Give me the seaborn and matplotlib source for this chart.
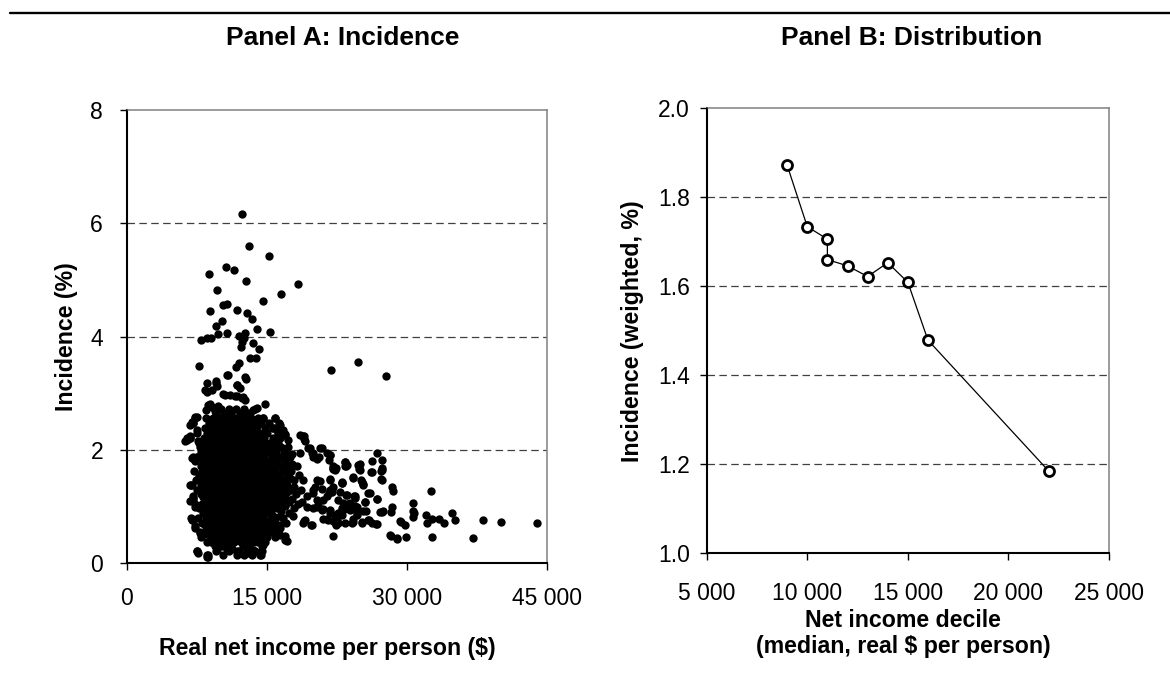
import matplotlib
matplotlib.use("Agg")
import matplotlib.pyplot as plt
from matplotlib.ticker import FuncFormatter, FixedLocator
from matplotlib.lines import Line2D
import seaborn as sns
import pandas as pd

# ---------------- Panel A data (income in $ thousands, incidence %) ----------------
# dense core, read row by row (incidence level, incomes)
core_rows = [
    (0.15, [8.7, 10.3, 11.8, 12.6, 13.4, 14.4]),
    (0.22, [7.5, 9.6, 10.9, 12.0, 12.9, 13.7]),
    (0.30, [9.4, 10.2, 11.2, 12.4, 13.1, 14.5]),
    (0.38, [8.6, 9.0, 9.9, 10.7, 11.5, 12.2, 12.9, 13.6, 14.0, 14.8]),
    (0.46, [8.0, 8.9, 9.5, 10.3, 11.0, 11.8, 12.5, 13.3, 14.1, 15.0, 15.9]),
    (0.55, [7.8, 8.4, 9.2, 9.9, 10.6, 11.4, 12.1, 12.8, 13.5, 14.3, 15.5, 16.0]),
    (0.63, [7.3, 8.7, 9.5, 10.2, 10.9, 11.7, 12.4, 13.1, 13.9, 14.7, 16.4]),
    (0.72, [8.1, 8.9, 9.7, 10.5, 11.2, 12.0, 12.7, 13.4, 14.2, 15.1, 15.7, 17.0]),
    (0.80, [6.9, 7.6, 8.5, 9.3, 10.0, 10.8, 11.5, 12.3, 13.0, 13.8, 14.6, 15.9, 16.7]),
    (0.88, [8.2, 9.0, 9.7, 10.4, 11.1, 11.9, 12.6, 13.3, 14.1, 14.9, 15.4, 17.4]),
    (0.97, [7.7, 8.6, 9.4, 10.1, 10.8, 11.6, 12.3, 13.0, 13.8, 14.5, 15.2, 16.1, 17.9]),
    (1.05, [7.3, 8.1, 8.9, 9.7, 10.5, 11.2, 12.0, 12.7, 13.4, 14.2, 15.0, 15.8, 16.6, 18.3]),
    (1.13, [7.1, 8.5, 9.3, 10.0, 10.8, 11.5, 12.3, 13.1, 13.8, 14.6, 15.4, 16.2, 17.0, 17.7]),
    (1.22, [7.9, 8.8, 9.6, 10.4, 11.1, 11.9, 12.6, 13.4, 14.1, 14.9, 15.7, 16.5, 18.1]),
    (1.30, [7.5, 8.3, 9.1, 9.9, 10.7, 11.4, 12.2, 13.0, 13.7, 14.5, 15.3, 16.0, 16.9, 17.6, 18.6]),
    (1.38, [6.9, 7.9, 8.7, 9.5, 10.3, 11.0, 11.8, 12.5, 13.3, 14.0, 14.8, 15.6, 16.4, 17.2]),
    (1.47, [7.4, 8.2, 9.0, 9.8, 10.6, 11.3, 12.1, 12.9, 13.6, 14.4, 15.2, 16.0, 16.8, 17.9, 18.9]),
    (1.55, [7.7, 8.5, 9.3, 10.1, 10.9, 11.7, 12.4, 13.2, 13.9, 14.7, 15.5, 16.3, 17.1, 18.4]),
    (1.63, [7.2, 8.1, 8.9, 9.7, 10.4, 11.2, 12.0, 12.8, 13.5, 14.3, 15.1, 15.9, 16.7, 17.6]),
    (1.72, [7.9, 8.6, 9.4, 10.2, 11.0, 11.8, 12.5, 13.3, 14.0, 14.8, 15.6, 16.4, 17.3, 18.2]),
    (1.80, [7.3, 8.2, 9.0, 9.8, 10.6, 11.4, 12.1, 12.9, 13.7, 14.5, 15.3, 16.1, 16.9]),
    (1.88, [7.5, 8.5, 9.3, 10.1, 10.9, 11.6, 12.4, 13.2, 13.9, 14.7, 15.5, 16.5, 17.5]),
    (1.97, [8.0, 8.8, 9.6, 10.4, 11.2, 12.0, 12.8, 13.5, 14.3, 15.1, 16.0, 16.8]),
    (2.05, [7.8, 8.6, 9.4, 10.2, 11.0, 11.7, 12.5, 13.3, 14.1, 14.9, 15.7, 16.5, 17.3]),
    (2.13, [7.7, 8.9, 9.7, 10.5, 11.3, 12.1, 12.9, 13.7, 14.5, 15.3, 16.2]),
    (2.22, [6.4, 6.8, 8.3, 9.1, 9.9, 10.7, 11.5, 12.3, 13.1, 13.9, 14.7, 15.6, 16.4]),
    (2.30, [7.5, 8.6, 9.4, 10.2, 11.0, 11.8, 12.6, 13.4, 14.2, 15.0, 16.2]),
    (2.38, [8.4, 9.0, 9.8, 10.6, 11.4, 12.2, 13.0, 13.8, 14.8, 15.7]),
    (2.47, [7.1, 8.8, 9.5, 10.3, 11.1, 11.9, 12.7, 13.5, 14.4, 15.2, 16.3]),
    (2.56, [7.3, 8.5, 9.2, 10.0, 10.8, 11.6, 12.4, 13.3, 14.1, 14.6, 15.9]),
    (2.65, [9.6, 10.4, 11.2, 12.1, 12.9]),
    (2.73, [10.1, 10.9, 11.7, 12.6]),
]

# in-between rows of the solid core (offset positions)
core_rows_mid = [
    (0.42, [8.9, 9.6, 10.4, 11.2, 11.9, 12.7, 13.5, 14.3]),
    (0.51, [8.3, 9.0, 9.8, 10.6, 11.4, 12.2, 13.0, 13.8, 14.6]),
    (0.59, [8.5, 9.3, 10.1, 10.9, 11.7, 12.5, 13.3, 14.1, 15.0]),
    (0.68, [8.4, 9.2, 10.0, 10.8, 11.6, 12.4, 13.2, 14.0, 14.8, 16.0]),
    (0.76, [8.6, 9.4, 10.2, 11.0, 11.8, 12.6, 13.4, 14.2, 15.3]),
    (0.84, [8.8, 9.6, 10.4, 11.2, 12.0, 12.8, 13.6, 14.4, 15.6, 16.4]),
    (0.93, [8.3, 9.1, 9.9, 10.7, 11.5, 12.3, 13.1, 13.9, 14.8, 16.5]),
    (1.01, [8.5, 9.3, 10.1, 10.9, 11.7, 12.5, 13.3, 14.1, 15.4, 16.9]),
    (1.09, [8.7, 9.5, 10.3, 11.1, 11.9, 12.7, 13.5, 14.3, 15.2, 16.0, 17.4]),
    (1.17, [8.2, 9.0, 9.8, 10.6, 11.4, 12.2, 13.0, 13.8, 14.6, 15.6, 16.6]),
    (1.26, [8.4, 9.2, 10.0, 10.8, 11.6, 12.4, 13.2, 14.0, 14.8, 15.9, 17.2]),
    (1.34, [8.6, 9.4, 10.2, 11.0, 11.8, 12.6, 13.4, 14.2, 15.0, 16.4, 17.9]),
    (1.43, [8.3, 9.1, 9.9, 10.7, 11.5, 12.3, 13.1, 13.9, 14.7, 15.6, 16.5]),
    (1.51, [8.0, 8.8, 9.6, 10.4, 11.2, 12.0, 12.8, 13.6, 14.4, 15.3, 17.5]),
    (1.59, [8.4, 9.2, 10.0, 10.8, 11.6, 12.4, 13.2, 14.0, 14.9, 16.0, 17.0]),
    (1.68, [8.2, 9.0, 9.8, 10.6, 11.4, 12.2, 13.0, 13.8, 14.6, 15.5, 16.9]),
    (1.76, [8.5, 9.3, 10.1, 10.9, 11.7, 12.5, 13.3, 14.1, 15.0, 16.0, 17.7]),
    (1.84, [8.1, 8.9, 9.7, 10.5, 11.3, 12.1, 12.9, 13.7, 14.5, 15.9]),
    (1.93, [8.3, 9.1, 9.9, 10.7, 11.5, 12.3, 13.1, 13.9, 14.7, 15.6, 17.1]),
    (2.01, [8.5, 9.3, 10.1, 10.9, 11.7, 12.5, 13.3, 14.1, 15.3]),
    (2.09, [8.2, 9.0, 9.8, 10.6, 11.4, 12.2, 13.0, 13.8, 14.6, 16.0]),
    (2.18, [8.5, 9.3, 10.1, 10.9, 11.7, 12.5, 13.3, 14.1]),
    (2.26, [8.8, 9.6, 10.4, 11.2, 12.0, 12.8, 13.6, 14.4]),
    (2.34, [8.9, 9.7, 10.5, 11.3, 12.1, 12.9, 13.7]),
    (2.43, [9.1, 9.9, 10.7, 11.5, 12.3, 13.1, 13.9]),
    (2.51, [9.6, 10.4, 11.2, 12.0, 12.8]),
]

# extra points read inside the dense core (irregular fill)
fill_points = [
    (9.0, 1.01), (10.1, 1.09), (11.4, 0.93), (12.8, 1.17), (13.9, 0.84), (9.7, 1.42),
    (10.9, 1.51), (12.2, 1.34), (13.5, 1.58), (14.6, 1.26), (8.8, 1.84), (10.3, 1.92),
    (11.5, 1.76), (12.9, 2.01), (14.2, 1.68), (9.3, 2.27), (10.8, 2.34), (12.1, 2.18),
    (13.6, 2.42), (8.6, 0.59), (10.4, 0.67), (11.6, 0.50), (12.9, 0.76), (14.0, 0.42),
    (9.9, 0.34), (11.3, 0.26), (12.6, 0.42), (15.5, 1.09), (16.2, 1.84), (15.9, 1.43),
    (16.8, 1.17), (17.4, 1.51), (15.1, 2.09), (17.7, 1.93), (8.2, 1.26), (8.0, 2.01),
]

# edge / sparse points around the core
edge_points = [
    (7.13, 1.88), (7.31, 1.82), (6.95, 1.38), (7.13, 1.18), (7.31, 1.00), (6.95, 0.76),
    (7.31, 0.65), (7.85, 0.53), (7.49, 0.21), (8.74, 0.12), (6.78, 1.38), (7.13, 1.15),
    (6.95, 0.79), (6.95, 1.85), (7.67, 0.19), (8.56, 0.15), (6.80, 1.10), (6.24, 2.16),
    (6.78, 2.24), (7.06, 0.76), (8.56, 0.12), (14.26, 0.15),
    (9.63, 0.24), (10.70, 0.26), (11.77, 0.21), (12.84, 0.18), (13.55, 0.24), (14.44, 0.21),
    (14.62, 0.32), (16.05, 0.53), (16.94, 0.41), (15.51, 0.59), (16.41, 0.68), (15.87, 0.79),
    (14.80, 0.47),
    (10.34, 2.98), (11.05, 2.97), (11.77, 2.95), (12.48, 2.94), (10.52, 2.97), (11.59, 2.95),
    (12.30, 2.91), (12.66, 2.88), (8.38, 3.05), (9.16, 3.05), (8.56, 3.03), (8.92, 2.82),
    (9.09, 2.76), (8.49, 2.71), (8.74, 2.79), (9.81, 2.78), (9.45, 2.68), (14.80, 2.82),
    (13.55, 2.71), (13.91, 2.74), (13.73, 2.72), (13.20, 2.66), (14.62, 2.56), (13.91, 2.50),
    (15.87, 2.56), (16.33, 2.44), (16.76, 2.35), (18.90, 2.24), (19.08, 2.15), (7.49, 2.59),
    (7.13, 2.47), (6.42, 2.18), (6.78, 2.21), (7.49, 2.35), (15.69, 2.38), (16.23, 2.32),
    (16.94, 2.26), (17.30, 2.18), (16.94, 2.28), (16.40, 2.44), (7.31, 2.59), (6.95, 2.50),
    (6.78, 2.44), (7.67, 2.15), (7.49, 1.88),
]

# upper outliers
upper_points = [
    (12.37, 6.16), (13.12, 5.60), (15.22, 5.43), (8.84, 5.10), (10.62, 5.23), (11.51, 5.17),
    (12.80, 4.98), (9.66, 4.82), (18.33, 4.93), (16.47, 4.76), (14.62, 4.63), (8.95, 4.45),
    (10.34, 4.55), (10.77, 4.58), (11.80, 4.47), (12.84, 4.41), (13.44, 4.32), (10.16, 4.27),
    (9.52, 4.18), (13.97, 4.13), (9.77, 4.05), (10.73, 4.06), (15.33, 4.08), (12.01, 4.02),
    (12.66, 4.07), (12.52, 3.98), (7.95, 3.94), (8.62, 3.98), (8.99, 3.98), (12.30, 3.91),
    (13.55, 3.88), (14.19, 3.79), (12.23, 3.81), (13.19, 3.62), (13.80, 3.62), (7.77, 3.49),
    (11.66, 3.47), (11.98, 3.53), (21.86, 3.42), (24.71, 3.55), (27.77, 3.31),
    (10.70, 3.32), (10.88, 3.32), (12.66, 3.29), (12.77, 3.25), (11.77, 3.15), (8.56, 3.19),
    (9.56, 3.21), (9.63, 3.13), (12.13, 3.09), (9.52, 3.19), (11.77, 3.15),
]

# right-hand tail
tail_points = [
    (26.75, 1.95), (32.52, 1.28), (30.60, 1.07), (30.60, 0.93), (30.70, 0.88), (30.60, 0.82),
    (32.02, 0.86), (32.10, 0.71), (32.63, 0.79), (33.41, 0.78), (33.95, 0.72), (34.77, 0.88),
    (35.16, 0.76), (38.12, 0.76), (40.08, 0.73), (43.86, 0.72), (37.02, 0.44), (32.66, 0.46),
    (29.85, 0.46), (28.95, 0.43), (28.31, 0.48), (29.31, 0.73), (29.74, 0.67), (28.35, 1.00),
    (28.25, 0.91), (28.38, 1.35), (28.52, 1.28), (27.24, 1.63), (27.24, 1.48), (27.13, 0.90),
    (27.42, 0.93), (26.67, 0.69), (26.75, 1.14), (26.17, 1.61), (25.85, 1.24), (25.89, 0.76),
    (25.50, 1.08), (25.61, 0.93), (25.17, 0.73), (24.82, 1.72), (24.88, 1.66), (24.25, 1.52),
    (25.03, 1.47), (25.25, 1.40), (24.32, 1.18), (24.46, 1.02), (24.61, 0.88), (24.17, 0.73),
    (23.36, 1.79), (23.46, 1.72), (23.00, 1.42), (23.46, 1.21), (23.18, 1.06), (23.54, 0.99),
    (23.18, 0.94), (23.00, 0.86), (22.10, 0.48), (22.36, 0.68), (22.53, 0.76), (21.76, 1.92),
    (21.69, 1.82), (22.11, 1.68), (22.40, 1.68), (21.76, 1.47), (21.93, 1.32), (21.69, 1.24),
    (19.43, 2.03), (19.79, 1.95), (19.97, 1.88), (20.32, 1.84), (20.86, 2.03), (21.39, 1.94),
    (21.75, 1.91), (23.35, 1.79), (23.53, 1.74), (22.28, 1.68), (22.10, 1.66), (22.99, 1.44),
    (21.75, 1.49), (22.10, 1.34), (21.93, 1.26), (21.39, 1.18), (20.68, 1.46), (20.14, 1.34),
    (19.97, 1.24), (20.97, 1.12), (20.32, 1.00), (21.03, 0.96), (24.78, 1.74), (24.96, 1.65),
    (25.14, 1.44), (26.21, 1.62), (27.28, 1.65), (27.28, 1.47), (26.03, 1.24), (26.74, 1.14),
    (25.49, 1.09), (24.42, 1.18), (24.60, 1.00), (23.53, 1.05), (22.64, 1.12), (22.99, 0.97),
    (22.64, 0.88), (22.28, 0.85), (21.75, 0.94), (21.39, 0.79), (22.10, 0.75), (21.03, 0.78),
    (22.64, 0.71), (24.60, 0.85), (23.89, 0.94), (25.32, 0.93), (24.07, 0.72), (25.14, 0.72),
    (25.85, 0.76), (26.74, 0.69), (27.28, 0.91), (26.21, 0.72), (19.07, 0.76), (19.79, 0.68),
    (18.90, 0.71), (17.83, 0.84), (16.94, 0.49), (16.40, 0.50), (17.11, 0.40),
    (28.17, 0.50), (28.88, 0.44), (29.24, 0.74), (27.28, 1.82), (27.28, 1.68), (26.21, 1.80),
    (24.32, 0.97), (24.43, 1.16), (23.89, 1.06), (23.36, 0.71), (24.25, 0.79), (23.00, 0.94),
    (22.39, 0.69), (21.57, 0.76), (21.75, 0.89), (20.86, 0.94), (20.33, 1.12), (24.96, 1.76),
    (24.25, 1.50), (25.32, 1.38), (23.36, 1.71), (22.11, 1.71), (22.29, 1.65), (23.00, 1.41),
    (21.75, 1.29), (22.82, 1.26), (23.53, 1.21), (20.68, 2.03), (18.97, 2.25), (19.61, 2.03),
    (19.97, 1.94), (20.61, 1.87), (18.54, 1.94), (20.40, 1.47), (20.86, 1.32), (19.97, 1.29),
    (19.33, 1.18), (18.72, 1.09), (19.26, 1.00), (19.97, 0.97), (20.50, 1.03), (18.97, 0.74),
    (19.68, 0.68), (18.54, 2.26), (19.00, 2.20),
]

# ---------------- Panel B data ----------------
decile_median_income = [9000, 10000, 11000, 11000, 12000, 13000, 14000, 15000, 16000, 22000]
decile_incidence = [1.872, 1.734, 1.706, 1.660, 1.646, 1.622, 1.653, 1.609, 1.479, 1.185]

panel_a_xticks = [0, 15000, 30000, 45000]
panel_a_yticks = [0, 2, 4, 6, 8]
panel_b_xticks = [5000, 10000, 15000, 20000, 25000]
panel_b_yticks = [1.0, 1.2, 1.4, 1.6, 1.8, 2.0]

# ---------------- build frames ----------------
pts = []
for yv, xs in core_rows + core_rows_mid:
    pts += [(xv, yv) for xv in xs]
pts += fill_points + edge_points + upper_points + tail_points
df_a = pd.DataFrame(pts, columns=["income_k", "incidence"])
df_a["income"] = df_a["income_k"] * 1000
df_b = pd.DataFrame({"income": decile_median_income, "incidence": decile_incidence})

# ---------------- style ----------------
sns.set_theme(style="white")
plt.rcParams["font.family"] = ["Liberation Sans", "DejaVu Sans"]

W, H = 1170, 690
fig = plt.figure(figsize=(W / 100, H / 100), dpi=100)
fig.patch.set_facecolor("white")

def px_axes(l, r, t, b):
    return fig.add_axes([l / W, 1 - b / H, (r - l) / W, (b - t) / H])

ax_a = px_axes(126.7, 547.3, 110.0, 563.3)
ax_b = px_axes(706.7, 1109.0, 108.3, 553.3)

sns.scatterplot(data=df_a, x="income", y="incidence", ax=ax_a, color="black",
                s=36, linewidth=0, legend=False, zorder=3)
sns.lineplot(data=df_b, x="income", y="incidence", ax=ax_b, estimator=None, sort=False,
             color="black", linewidth=0.9, marker="o", markersize=7.2,
             markerfacecolor="white", markeredgecolor="black", markeredgewidth=2.0,
             zorder=3)

space_fmt = FuncFormatter(lambda v, p: f"{int(round(v)):,}".replace(",", " "))

def style_axes(ax, xt, yt, xlim, ylim, yfmt, xpad, ypad):
    ax.set_xlim(*xlim)
    ax.set_ylim(*ylim)
    ax.xaxis.set_major_locator(FixedLocator(xt))
    ax.yaxis.set_major_locator(FixedLocator(yt))
    ax.xaxis.set_major_formatter(space_fmt)
    ax.yaxis.set_major_formatter(yfmt)
    ax.set_facecolor("white")
    for side in ["left", "bottom"]:
        ax.spines[side].set_color("black")
        ax.spines[side].set_linewidth(1.5)
    for side in ["top", "right"]:
        ax.spines[side].set_color("#808080")
        ax.spines[side].set_linewidth(1.1)
    ax.tick_params(axis="x", direction="out", length=5, width=1, color="black",
                   labelsize=16.5, pad=xpad, bottom=True, labelcolor="black")
    ax.tick_params(axis="y", direction="out", length=5, width=1, color="black",
                   labelsize=16.5, pad=ypad, left=True, labelcolor="black")
    ax.grid(False)
    for yv in yt[1:-1]:
        ax.axhline(yv, color="#404040", linewidth=0.9, linestyle=(0, (6, 3.5)), zorder=1)
    ax.set_axisbelow(False)

style_axes(ax_a, panel_a_xticks, panel_a_yticks, (0, 45000), (0, 8),
           FuncFormatter(lambda v, p: f"{v:.0f}"), 12, 12)
style_axes(ax_b, panel_b_xticks, panel_b_yticks, (5000, 25000), (1.0, 2.0),
           FuncFormatter(lambda v, p: f"{v:.1f}"), 16, 7)

lab_kw = dict(fontsize=16.7, fontweight="bold", color="black")
ax_a.set_xlabel("Real net income per person ($)", **lab_kw)
ax_a.set_ylabel("Incidence (%)", **lab_kw)
ax_b.set_xlabel("Net income decile\n(median, real $ per person)", **lab_kw)
ax_b.set_ylabel("Incidence (weighted, %)", **lab_kw)

ax_a.xaxis.set_label_coords((327 - 126.7) / 420.6, (563.3 - 649) / 453.3)
ax_a.xaxis.label.set_verticalalignment("center")
ax_a.yaxis.set_label_coords((66 - 126.7) / 420.6, 0.5)
ax_a.yaxis.label.set_verticalalignment("center")
ax_b.xaxis.set_label_coords((903 - 706.7) / 402.3, (553.3 - 633.6) / 445)
ax_b.xaxis.label.set_verticalalignment("center")
ax_b.yaxis.set_label_coords((633 - 706.7) / 402.3, 0.5)
ax_b.yaxis.label.set_verticalalignment("center")

fig.text(343 / W, 1 - 38 / H, "Panel A: Incidence", ha="center", va="center",
         fontsize=19, fontweight="bold", color="black")
fig.text(912 / W, 1 - 38 / H, "Panel B: Distribution", ha="center", va="center",
         fontsize=19, fontweight="bold", color="black")

fig.add_artist(Line2D([10 / W, 1.0], [1 - 12.7 / H, 1 - 12.7 / H], color="black",
                      linewidth=1.7, transform=fig.transFigure))

fig.savefig("out.png", dpi=100, facecolor="white")
